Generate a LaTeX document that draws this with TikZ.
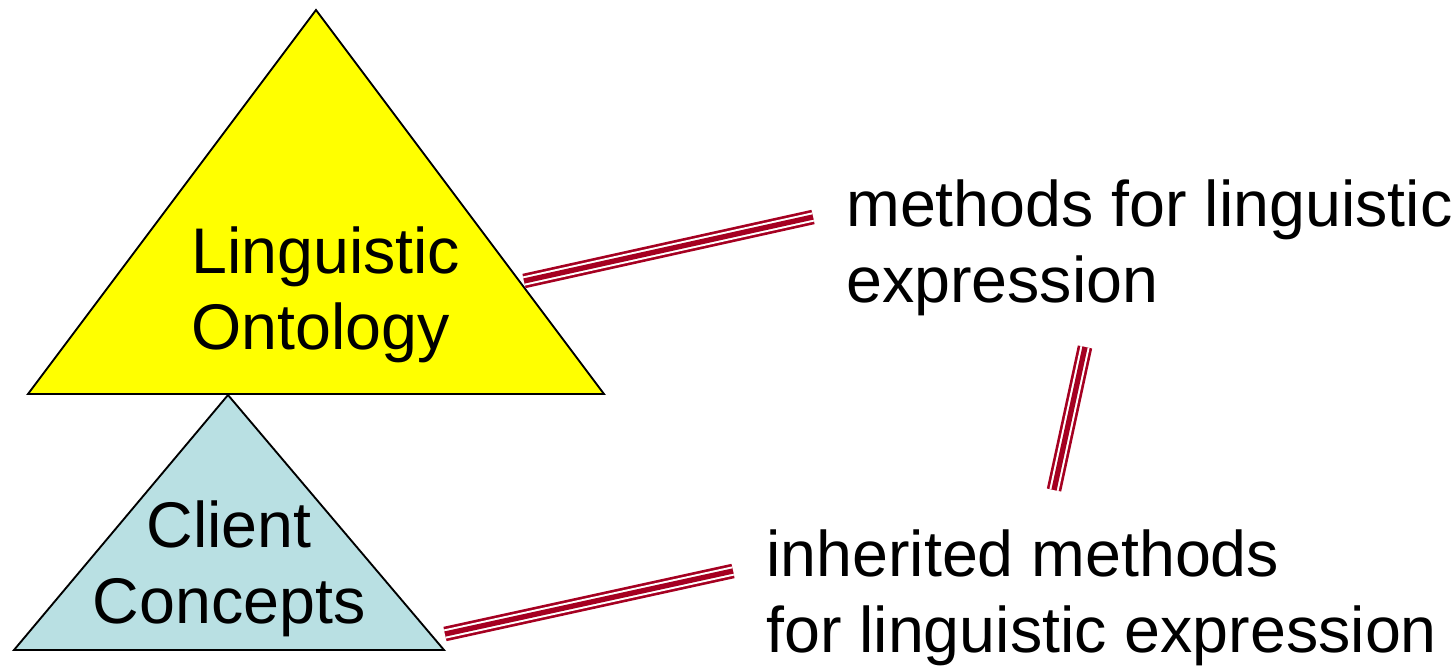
\documentclass[tikz,border=0pt]{standalone}
\usepackage{fontspec}
\setmainfont{Liberation Sans}
\usepackage{tikz}

\definecolor{ontoyellow}{RGB}{255,255,0}
\definecolor{clientblue}{RGB}{185,224,227}
\definecolor{linkred}{RGB}{165,0,33}

\tikzset{
    triline/.style={draw=linkred, line width=11pt,
        postaction={draw=white, line width=7pt},
        postaction={draw=linkred, line width=4pt}},
    bigtext/.style={inner sep=0pt, font=\fontsize{48.4pt}{57pt}\selectfont}
}

\begin{document}
\begin{tikzpicture}[x=0.75pt, y=-0.75pt]
        \useasboundingbox (0,0) rectangle (1456,666);
        % the two triangles
        \draw[fill=ontoyellow, line width=1.4pt] (316,10) -- (604,394) -- (28,394) -- cycle;
        \draw[fill=clientblue, line width=1.4pt] (228,395) -- (444,650) -- (14,650) -- cycle;
        \node[bigtext, anchor=base west, align=left] (onto) at (191,350) {Linguistic\\Ontology};
        \node[bigtext, anchor=base, align=center] (client) at (229,623) {Client\\Concepts};
        % the texts on the right
        \node[bigtext, anchor=base west, align=left] (meth) at (846,303) {methods for linguistic\\expression};
        \node[bigtext, anchor=base west, align=left] (inh) at (766,652) {inherited methods\\for linguistic expression};
        % the links
        \coordinate (ontoR) at (524,281);
        \coordinate (methL) at (813,217);
        \coordinate (methB) at (1085,347);
        \coordinate (inhT) at (1054,490);
        \coordinate (clientR) at (445,634);
        \coordinate (inhL) at (733,571);
        \draw[triline] (ontoR) -- (methL);
        \draw[triline] (methB) -- (inhT);
        \draw[triline] (clientR) -- (inhL);
    \end{tikzpicture}
\end{document}
